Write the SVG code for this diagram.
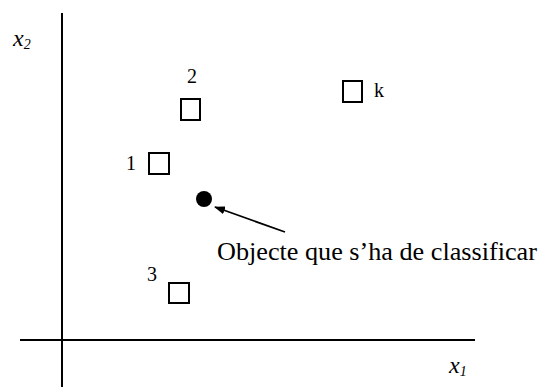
<svg xmlns="http://www.w3.org/2000/svg" width="543" height="387" viewBox="0 0 543 387">
<style>
text{font-family:"Liberation Serif","Times New Roman",serif;fill:#000}
.lbl{font-size:20px}
.ax{font-size:24px;font-style:italic}
.sub{font-size:14px;font-style:italic}
.sq{fill:#fff;stroke:#000;stroke-width:2}
.axis{stroke:#000;stroke-width:2;fill:none}
</style>
<defs>
<marker id="ah" markerWidth="11" markerHeight="8" refX="10" refY="4" orient="auto" markerUnits="userSpaceOnUse">
<path d="M0,0 L11,4 L0,8 Z" fill="#000"/>
</marker>
</defs>
<g id="axes">
<line class="axis" x1="62" y1="13" x2="62" y2="387"/>
<line class="axis" x1="20" y1="340" x2="475" y2="340"/>
<text class="ax" x="13" y="46">x<tspan class="sub" dy="3">2</tspan></text>
<text class="ax" x="449" y="373">x<tspan class="sub" dy="3">1</tspan></text>
</g>
<g id="node-1">
<rect class="sq" x="149" y="153" width="20" height="21"/>
<text class="lbl" x="126" y="170">1</text>
</g>
<g id="node-2">
<rect class="sq" x="181" y="99" width="19" height="21"/>
<text class="lbl" x="187" y="83">2</text>
</g>
<g id="node-3">
<rect class="sq" x="169" y="283" width="20" height="20"/>
<text class="lbl" x="147" y="281">3</text>
</g>
<g id="node-k">
<rect class="sq" x="343" y="81" width="19" height="21"/>
<text class="lbl" x="374" y="97">k</text>
</g>
<g id="node-object">
<circle cx="204" cy="199" r="8" fill="#000"/>
<text x="217" y="260" style="font-size:26.2px">Objecte que s’ha de classificar</text>
</g>
<g id="connectors">
<line x1="285" y1="232" x2="215" y2="207" stroke="#000" stroke-width="1.8" marker-end="url(#ah)"/>
</g>
</svg>
